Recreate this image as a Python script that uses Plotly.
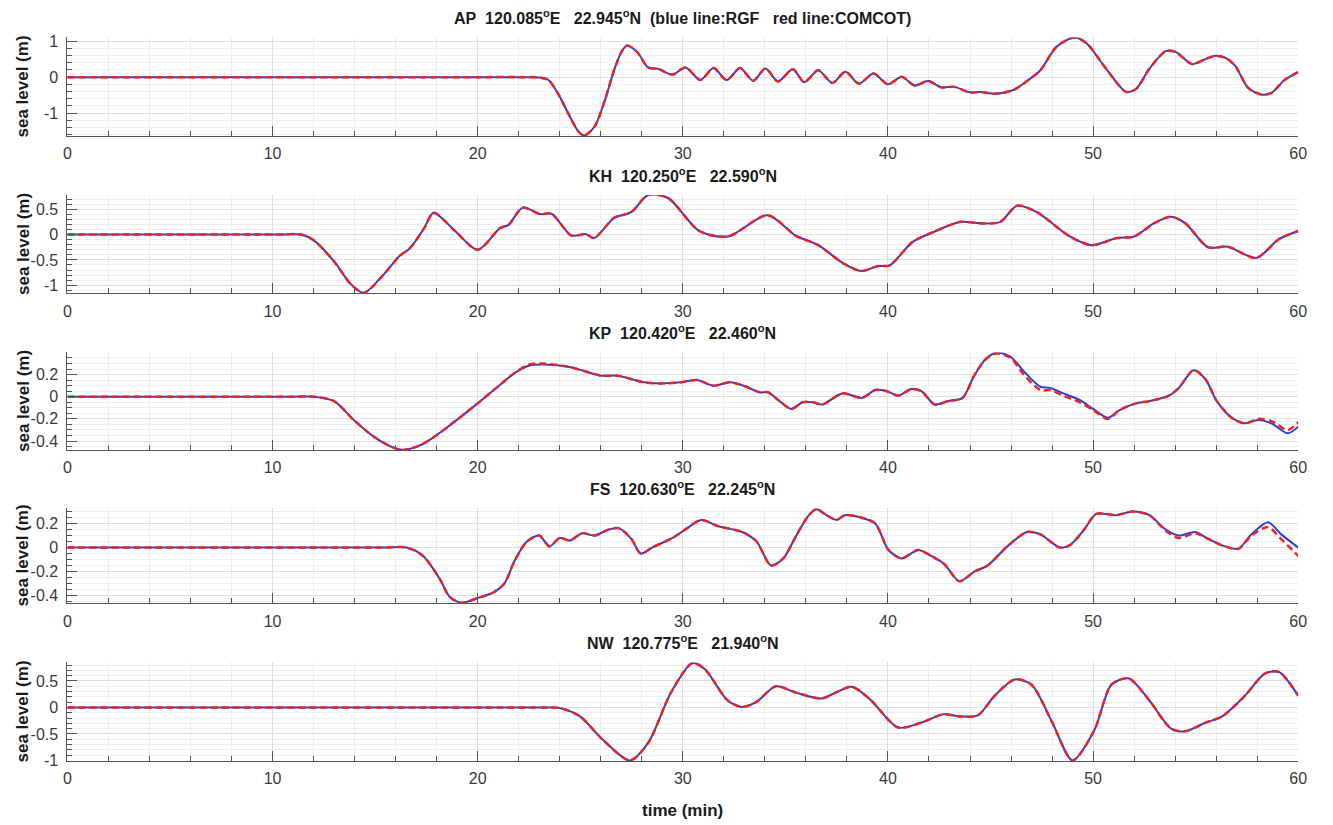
import plotly.graph_objects as go

# ---------------- data (time in min, sea level in m) ----------------
AP_T = [0, 10, 20, 22.0, 22.97, 23.45, 23.94, 24.42, 24.9, 25.2, 25.7, 26.19, 26.67, 27.07, 27.3,
        27.8, 28.3, 28.8, 29.5, 30.13, 30.86, 31.5, 32.14, 32.79, 33.43, 34.03, 34.64, 35.36, 35.92,
        36.6, 37.29, 37.93, 38.58, 39.3, 40.0, 40.67, 41.3, 41.96, 42.6, 43.24, 43.97, 44.5, 45.25,
        46.14, 46.94, 47.43, 48.23, 49.1, 49.68, 50.64, 51.61, 52.09, 52.74, 53.54, 54.02, 54.83,
        55.47, 55.95, 56.43, 56.92, 57.56, 58.2, 58.69, 59.33, 60]
AP_RGF = [0, 0, 0, 0, -0.01, -0.08, -0.48, -1.01, -1.5, -1.62, -1.37, -0.66, 0.23, 0.76, 0.88,
          0.68, 0.27, 0.23, 0.07, 0.27, -0.08, 0.25, -0.08, 0.25, -0.1, 0.24, -0.12, 0.22, -0.14,
          0.19, -0.16, 0.15, -0.18, 0.1, -0.2, 0.01, -0.23, -0.11, -0.28, -0.27, -0.42, -0.41, -0.46,
          -0.35, -0.04, 0.19, 0.85, 1.1, 0.94, 0.23, -0.41, -0.33, 0.23, 0.72, 0.7, 0.36,
          0.5, 0.59, 0.54, 0.32, -0.3, -0.48, -0.44, -0.08, 0.14]
AP_COMCOT = [0, 0, 0, 0, -0.01, -0.08, -0.48, -1.01, -1.5, -1.62, -1.37, -0.66, 0.23, 0.76, 0.88,
             0.68, 0.27, 0.23, 0.07, 0.27, -0.08, 0.25, -0.08, 0.25, -0.1, 0.24, -0.12, 0.22, -0.14,
             0.19, -0.16, 0.15, -0.18, 0.1, -0.2, 0.01, -0.23, -0.11, -0.28, -0.27, -0.42, -0.41, -0.46,
             -0.35, -0.04, 0.19, 0.85, 1.1, 0.94, 0.23, -0.41, -0.33, 0.23, 0.72, 0.7, 0.36,
             0.5, 0.59, 0.54, 0.32, -0.3, -0.48, -0.44, -0.08, 0.14]

KH_T = [0, 5, 9, 10.5, 11.4, 12.03, 13.0, 13.8, 14.45, 15.41, 16.2, 16.7, 17.4, 17.85, 18.9, 20.0, 21.1,
        21.5, 22.2, 23.05, 23.6, 24.57, 25.26, 25.68, 26.65, 27.48, 28.31, 29.28, 30.8, 32.19,
        34.13, 35.5, 36.6, 37.87, 38.7, 39.53, 40.08, 41.19, 42.16, 43.55, 44.5, 45.48, 46.3, 47.3,
        48.8, 49.92, 51.16, 52.0, 52.96, 53.8, 54.5, 55.6, 56.57, 57.95, 59.06, 60]
KH_RGF = [0, 0, 0, 0, 0, -0.12, -0.53, -0.97, -1.15, -0.79, -0.42, -0.27, 0.13, 0.43, 0.07, -0.3, 0.13,
          0.19, 0.53, 0.4, 0.41, -0.02, 0.01, -0.07, 0.33, 0.44, 0.78, 0.72, 0.07, -0.04,
          0.38, -0.02, -0.21, -0.58, -0.72, -0.62, -0.61, -0.15, 0.04, 0.25, 0.22, 0.25, 0.57, 0.43,
          -0.02, -0.21, -0.07, -0.04, 0.22, 0.35, 0.22, -0.25, -0.24, -0.46, -0.09, 0.07]
KH_COMCOT = [0, 0, 0, 0, 0, -0.12, -0.53, -0.97, -1.15, -0.79, -0.42, -0.27, 0.13, 0.43, 0.07, -0.3, 0.13,
             0.19, 0.53, 0.4, 0.41, -0.02, 0.01, -0.07, 0.33, 0.44, 0.78, 0.72, 0.07, -0.04,
             0.38, -0.02, -0.21, -0.58, -0.72, -0.62, -0.61, -0.15, 0.04, 0.25, 0.22, 0.25, 0.57, 0.43,
             -0.02, -0.21, -0.07, -0.04, 0.22, 0.35, 0.22, -0.25, -0.24, -0.46, -0.09, 0.07]

KP_T = [0, 5, 9, 11, 12.03, 13.0, 13.96, 14.93, 15.9, 16.38, 17.18, 17.82, 18.63, 20.0, 21.04, 21.77,
        22.49, 23.13, 24.42, 25.23, 26.03, 26.83, 28.12, 28.92, 29.89, 30.69, 31.5, 32.3, 33.1,
        33.75, 34.15, 34.72, 35.28, 35.84, 36.33, 36.81, 37.77, 38.74, 39.38, 39.95, 40.5, 41.15,
        41.63, 42.28, 42.92, 43.64, 44.2, 44.77, 45.3, 45.98, 46.62, 47.43, 47.91, 48.55, 49.36,
        50.0, 50.72, 51.29, 52.09, 52.74, 53.7, 54.18, 54.9, 55.47, 56.03, 56.76, 57.4, 58.04,
        58.69, 59.49, 60]
KP_RGF = [0, 0, 0, 0, 0, -0.04, -0.21, -0.36, -0.46, -0.48, -0.44, -0.37, -0.26, -0.06, 0.1, 0.21,
          0.28, 0.29, 0.27, 0.23, 0.19, 0.19, 0.13, 0.12, 0.13, 0.15, 0.1, 0.13, 0.09,
          0.04, 0.04, -0.04, -0.11, -0.05, -0.05, -0.07, 0.03, -0.01, 0.06, 0.05, 0.01, 0.07,
          0.05, -0.07, -0.04, -0.01, 0.19, 0.34, 0.4, 0.36, 0.23, 0.09, 0.08, 0.03, -0.03,
          -0.11, -0.19, -0.12, -0.06, -0.04, 0.01, 0.08, 0.24, 0.16, -0.04, -0.19, -0.24, -0.21,
          -0.24, -0.33, -0.27]
KP_COMCOT = [0, 0, 0, 0, 0, -0.04, -0.21, -0.36, -0.46, -0.48, -0.44, -0.37, -0.26, -0.06, 0.1, 0.21,
             0.29, 0.3, 0.27, 0.23, 0.19, 0.19, 0.13, 0.12, 0.13, 0.15, 0.1, 0.13, 0.09,
             0.04, 0.04, -0.04, -0.11, -0.05, -0.05, -0.07, 0.03, -0.01, 0.06, 0.05, 0.01, 0.07,
             0.05, -0.07, -0.04, -0.01, 0.19, 0.34, 0.39, 0.35, 0.2, 0.06, 0.06, 0.01, -0.05,
             -0.12, -0.2, -0.12, -0.06, -0.04, 0.01, 0.08, 0.24, 0.16, -0.04, -0.19, -0.24, -0.2,
             -0.22, -0.3, -0.23]

FS_T = [0, 5, 10, 13, 15.5, 16.54, 17.34, 18.15, 18.63, 19.2, 20.0, 20.8, 21.3, 21.8, 22.4, 23.0, 23.5, 24.0,
        24.5, 25.1, 25.7, 26.4, 26.9, 27.5, 27.95, 28.5, 29.5, 30.2, 30.9, 31.7, 32.9, 33.6, 34.3,
        34.9, 35.5, 36.1, 36.5, 37.0, 37.5, 37.9, 38.7, 39.38, 40.03, 40.67, 41.47, 42.12, 42.76,
        43.48, 44.21, 44.85, 45.82, 46.78, 47.43, 48.39, 48.87, 49.52, 50.16, 51.13, 51.93, 52.74,
        53.54, 54.18, 54.99, 55.63, 56.43, 57.08, 57.72, 58.53, 59.17, 60]
FS_RGF = [0, 0, 0, 0, 0, 0, -0.07, -0.26, -0.41, -0.46, -0.42, -0.37, -0.3, -0.11, 0.05, 0.1, 0.01, 0.08,
          0.06, 0.12, 0.1, 0.15, 0.16, 0.07, -0.05, 0.0, 0.08, 0.16, 0.23, 0.18, 0.13, 0.05, -0.15,
          -0.09, 0.09, 0.26, 0.32, 0.27, 0.23, 0.27, 0.25, 0.2, -0.02, -0.09, -0.02, -0.07, -0.14,
          -0.28, -0.2, -0.15, 0.01, 0.13, 0.11, 0.0, 0.02, 0.14, 0.28, 0.27, 0.3, 0.27,
          0.15, 0.1, 0.13, 0.07, 0.01, -0.01, 0.11, 0.21, 0.11, 0.0]
FS_COMCOT = [0, 0, 0, 0, 0, 0, -0.07, -0.26, -0.41, -0.46, -0.42, -0.37, -0.3, -0.11, 0.05, 0.1, 0.01, 0.08,
             0.06, 0.12, 0.1, 0.15, 0.16, 0.07, -0.05, 0.0, 0.08, 0.16, 0.23, 0.18, 0.13, 0.05, -0.15,
             -0.09, 0.09, 0.26, 0.32, 0.27, 0.23, 0.27, 0.25, 0.2, -0.02, -0.09, -0.02, -0.07, -0.14,
             -0.28, -0.2, -0.15, 0.01, 0.13, 0.11, 0.0, 0.02, 0.14, 0.28, 0.27, 0.3, 0.27,
             0.14, 0.08, 0.12, 0.07, 0.01, -0.01, 0.1, 0.17, 0.07, -0.07]

NW_T = [0, 10, 17, 21, 23.2, 24.0, 24.99, 26.1, 27.42, 28.31, 29.42, 30.47, 31.08, 32.19, 32.88, 33.57, 34.54,
        35.51, 36.76, 37.45, 38.23, 39.11, 40.5, 41.6, 42.7, 43.55, 44.38, 45.2, 46.18, 47.0, 47.98,
        49.0, 50.06, 50.89, 51.72, 52.69, 53.8, 54.49, 55.46, 56.29, 57.4, 58.37, 59.06, 60]
NW_RGF = [0, 0, 0, 0, 0, -0.01, -0.17, -0.61, -1.0, -0.67, 0.28, 0.84, 0.72, 0.13, 0.01, 0.1, 0.4,
          0.28, 0.17, 0.28, 0.39, 0.16, -0.38, -0.29, -0.13, -0.17, -0.15, 0.22, 0.53, 0.43, -0.26,
          -1.0, -0.43, 0.43, 0.55, 0.16, -0.4, -0.45, -0.29, -0.17, 0.22, 0.64, 0.67, 0.22]
NW_COMCOT = [0, 0, 0, 0, 0, -0.01, -0.17, -0.61, -1.0, -0.67, 0.28, 0.84, 0.72, 0.13, 0.01, 0.1, 0.4,
             0.28, 0.17, 0.28, 0.39, 0.16, -0.38, -0.29, -0.13, -0.17, -0.15, 0.22, 0.53, 0.43, -0.26,
             -1.0, -0.43, 0.43, 0.55, 0.16, -0.4, -0.45, -0.29, -0.17, 0.22, 0.64, 0.67, 0.22]

STATIONS = ["AP", "KH", "KP", "FS", "NW"]
LONS = ["120.085", "120.250", "120.420", "120.630", "120.775"]
LATS = ["22.945", "22.590", "22.460", "22.245", "21.940"]
X_TICKS = [0, 10, 20, 30, 40, 50, 60]
Y_TICKS = [[-1, 0, 1], [-1, -0.5, 0, 0.5], [-0.4, -0.2, 0, 0.2], [-0.4, -0.2, 0, 0.2], [-1, -0.5, 0, 0.5]]
Y_TICKTEXT = [["-1", "0", "1"], ["-1", "-0.5", "0", "0.5"], ["-0.4", "-0.2", "0", "0.2"],
              ["-0.4", "-0.2", "0", "0.2"], ["-1", "-0.5", "0", "0.5"]]
Y_RANGES = [[-1.63, 1.1], [-1.16, 0.78], [-0.48, 0.40], [-0.465, 0.33], [-1.01, 0.85]]
Y_MINOR = [0.2, 0.1, 0.05, 0.05, 0.1]

SERIES_T = [AP_T, KH_T, KP_T, FS_T, NW_T]
SERIES_RGF = [AP_RGF, KH_RGF, KP_RGF, FS_RGF, NW_RGF]
SERIES_COMCOT = [AP_COMCOT, KH_COMCOT, KP_COMCOT, FS_COMCOT, NW_COMCOT]

# ---------------- layout geometry ----------------
W, H = 1333, 825
X_DOM = [64 / W, 1307 / W]
PANEL_PX = [(33, 133), (193, 293), (353, 452), (511, 608), (668, 768)]
FONT = "Liberation Sans, Arial, Helvetica, sans-serif"
AXC = "#555555"
BLUE = "#3040d4"
RED = "#ee2222"
TXT = "#1a1a1a"
TICKTXT = "#3a3a3a"

fig = go.Figure()
annotations = []
layout_axes = {}
for i in range(5):
    n = "" if i == 0 else str(i + 1)
    top, bot = PANEL_PX[i]
    ydom = [1 - bot / H, 1 - top / H]
    fig.add_trace(go.Scatter(x=SERIES_T[i], y=SERIES_RGF[i], mode="lines",
                             line=dict(color=BLUE, width=2, shape="spline", smoothing=0.8),
                             xaxis="x" + n, yaxis="y" + n, showlegend=False))
    fig.add_trace(go.Scatter(x=SERIES_T[i], y=SERIES_COMCOT[i], mode="lines",
                             line=dict(color=RED, width=2.5, dash="7px,4px", shape="spline", smoothing=0.8),
                             xaxis="x" + n, yaxis="y" + n, showlegend=False))
    layout_axes["xaxis" + n] = dict(
        domain=X_DOM, range=[0, 60], anchor="y" + n, tickmode="array", tickvals=X_TICKS,
        ticktext=[str(v) for v in X_TICKS], ticks="inside", ticklen=10, tickcolor=AXC,
        showline=True, linecolor=AXC, linewidth=1, mirror=False, zeroline=False,
        showgrid=True, gridcolor="#dfdfdf", gridwidth=1, ticklabelstandoff=3,
        minor=dict(tickmode="linear", tick0=0, dtick=2, ticks="inside", ticklen=5, tickcolor=AXC,
                   showgrid=True, gridcolor="#efefef", gridwidth=1),
        tickfont=dict(family=FONT, size=16, color=TICKTXT), fixedrange=True)
    layout_axes["yaxis" + n] = dict(
        domain=ydom, range=Y_RANGES[i], anchor="x" + n, tickmode="array", tickvals=Y_TICKS[i],
        ticktext=Y_TICKTEXT[i], ticks="inside", ticklen=10, tickcolor=AXC,
        showline=True, linecolor=AXC, linewidth=1, mirror=False, zeroline=False,
        showgrid=True, gridcolor="#dfdfdf", gridwidth=1, ticklabelstandoff=5,
        minor=dict(tickmode="linear", tick0=0, dtick=Y_MINOR[i], ticks="inside", ticklen=5, tickcolor=AXC,
                   showgrid=True, gridcolor="#efefef", gridwidth=1),
        tickfont=dict(family=FONT, size=16, color=TICKTXT), fixedrange=True)
    nb = "\u00a0"
    title = (f"{STATIONS[i]}{nb}{nb}{LONS[i]}<sup>o</sup>E{nb}{nb}{nb}{LATS[i]}<sup>o</sup>N")
    if i == 0:
        title += f"{nb}{nb}(blue line:RGF{nb}{nb}{nb}red line:COMCOT)"
    annotations.append(dict(text=f"<b>{title}</b>", x=(X_DOM[0] + X_DOM[1]) / 2, xref="paper",
                            y=ydom[1], yref="paper", xanchor="center", yanchor="bottom", yshift=8,
                            showarrow=False, font=dict(family=FONT, size=16, color=TXT)))
    annotations.append(dict(text="<b>sea level (m)</b>", x=19 / W, xref="paper",
                            y=(ydom[0] + ydom[1]) / 2, yref="paper", xanchor="center", yanchor="middle",
                            textangle=-90, showarrow=False, font=dict(family=FONT, size=17, color=TXT)))

annotations.append(dict(text="<b>time (min)</b>", x=(X_DOM[0] + X_DOM[1]) / 2, xref="paper",
                        y=1 - 818 / H, yref="paper", xanchor="center", yanchor="middle",
                        showarrow=False, font=dict(family=FONT, size=17, color=TXT)))

fig.update_layout(width=W, height=H, autosize=False, margin=dict(l=0, r=0, t=0, b=0),
                  paper_bgcolor="white", plot_bgcolor="white", annotations=annotations,
                  **layout_axes)
fig.write_html("out.html", config={"displayModeBar": False})
